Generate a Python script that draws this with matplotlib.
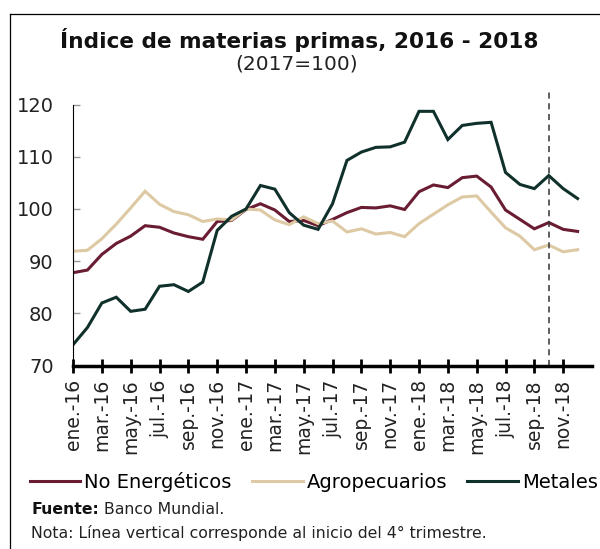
import numpy as np
import matplotlib
matplotlib.use("Agg")
import matplotlib.pyplot as plt
from matplotlib.lines import Line2D

# ------------------------------------------------------------
# Data (monthly index, 2017=100), ene-2016 ... dic-2018
# ------------------------------------------------------------
no_energeticos = [87.8, 88.3, 91.3, 93.4, 94.8, 96.8, 96.5, 95.4, 94.7, 94.2, 97.6, 97.8,
                  99.9, 101.0, 99.8, 97.6, 97.8, 96.8, 98.0, 99.3, 100.3, 100.2, 100.6, 99.9,
                  103.3, 104.6, 104.1, 106.0, 106.3, 104.2, 99.8, 98.0, 96.2, 97.4, 96.1, 95.7]
agropecuarios = [91.9, 92.1, 94.3, 97.1, 100.2, 103.4, 100.9, 99.5, 98.9, 97.6, 98.1, 97.9,
                 100.0, 99.8, 97.9, 97.0, 98.5, 97.2, 97.7, 95.6, 96.2, 95.2, 95.5, 94.7,
                 97.2, 99.0, 100.8, 102.3, 102.5, 99.4, 96.4, 94.8, 92.2, 93.1, 91.8, 92.2]
metales = [74.0, 77.3, 82.0, 83.1, 80.4, 80.8, 85.2, 85.5, 84.2, 86.0, 95.9, 98.6,
           100.0, 104.5, 103.8, 99.3, 96.9, 96.1, 101.0, 109.3, 110.9, 111.8, 111.9, 112.8,
           118.7, 118.7, 113.3, 116.0, 116.4, 116.6, 107.0, 104.7, 103.9, 106.4, 103.9, 102.0]

tick_labels = ["ene.-16", "mar.-16", "may.-16", "jul.-16", "sep.-16", "nov.-16",
               "ene.-17", "mar.-17", "may.-17", "jul.-17", "sep.-17", "nov.-17",
               "ene.-18", "mar.-18", "may.-18", "jul.-18", "sep.-18", "nov.-18"]
inicio_t4 = 33  # oct.-18

series = [("No Energéticos", no_energeticos, "#691C32"),
          ("Agropecuarios", agropecuarios, "#DDC9A3"),
          ("Metales", metales, "#10312B")]

plt.rcParams["font.family"] = ["DejaVu Sans"]

fig = plt.figure(figsize=(6, 5.49), dpi=100)
ax = fig.add_axes([0.1217, 0.334, 0.865, 0.506])

x = np.arange(len(metales))
for name, vals, col in series:
    ax.plot(x, vals, color=col, lw=2.2, label=name, solid_joinstyle="miter")

ax.axvline(inicio_t4, color="#333333", lw=1.1, ls=(0, (4, 3)))

ax.set_xlim(0, 36)
ax.set_ylim(70, 123.2)
ax.set_yticks([70, 80, 90, 100, 110, 120])
ax.set_xticks(np.arange(0, 36, 2))
ax.set_xticklabels(tick_labels, rotation=90, fontsize=13.5, color="#222222")

for s in ["top", "right"]:
    ax.spines[s].set_visible(False)
ax.spines["left"].set_bounds(70, 120)
ax.spines["left"].set_linewidth(0.8)
ax.spines["bottom"].set_linewidth(2.5)
ax.spines["bottom"].set_zorder(5)

ax.tick_params(axis="y", direction="in", length=5, width=1, color="#999999",
               labelsize=14, labelcolor="#222222", pad=14)
ax.tick_params(axis="x", direction="inout", length=9.5, width=2, color="black", pad=5)

# ------------------------------------------------------------
# Titles
# ------------------------------------------------------------
fig.text(0.498, 0.9117, "Índice de materias primas, 2016 - 2018", ha="center",
         va="baseline", fontsize=15.6, fontweight="bold", color="#111111")
fig.text(0.495, 0.8725, "(2017=100)", ha="center", va="baseline", fontsize=14.5,
         color="#222222")

# ------------------------------------------------------------
# Legend
# ------------------------------------------------------------
fig.legend(loc="center", bbox_to_anchor=(0.523, 0.1225), ncol=3, frameon=False,
           fontsize=14, handlelength=2.6, handletextpad=0.2, columnspacing=1.05,
           borderaxespad=0, borderpad=0)

# ------------------------------------------------------------
# Notes
# ------------------------------------------------------------
t1 = fig.text(0.052, 0.0583, "Fuente:", fontsize=11.3, fontweight="bold",
              va="bottom", color="#111111")
ax.annotate(" Banco Mundial.", xy=(1, 0), xycoords=t1, va="bottom", fontsize=11.3,
            color="#222222", annotation_clip=False)
fig.text(0.052, 0.0206, "Nota: Línea vertical corresponde al inicio del 4° trimestre.",
         fontsize=11.3, va="baseline", color="#222222")

# frame
fig.add_artist(Line2D([0.0162, 1], [0.974, 0.974], color="black", lw=0.9,
                      transform=fig.transFigure))
fig.add_artist(Line2D([0.0162, 0.0162], [0, 0.974], color="black", lw=0.9,
                      transform=fig.transFigure))

plt.savefig("out.png", dpi=100)
